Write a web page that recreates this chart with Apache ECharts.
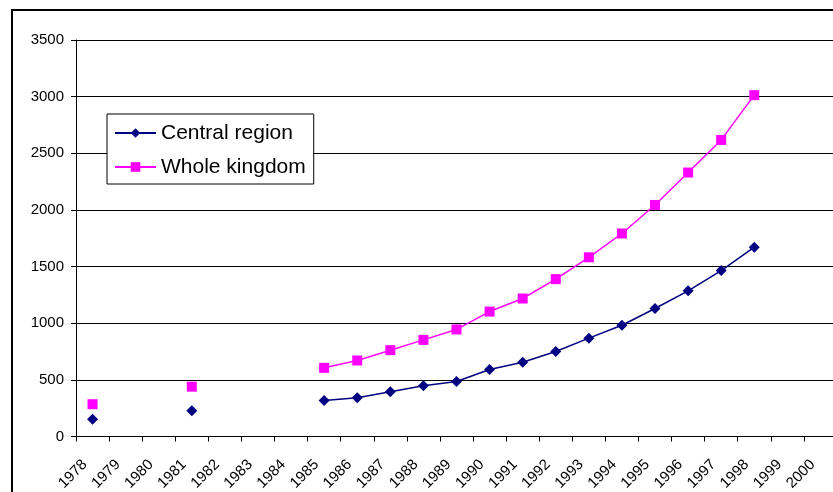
<!DOCTYPE html>
<html>
<head>
<meta charset="utf-8">
<script src="https://cdn.jsdelivr.net/npm/echarts@6/dist/echarts.min.js"></script>
<style>
html,body{margin:0;padding:0;background:#fff;}
#chart{width:833px;height:492px;}
</style>
</head>
<body>
<div id="chart"></div>
<script>
const years = ['1978','1979','1980','1981','1982','1983','1984','1985','1986','1987','1988','1989','1990','1991','1992','1993','1994','1995','1996','1997','1998','1999','2000'];
const centralRegion = [152, null, null, 228, null, null, null, 318, 343, 395, 447, 486, 591, 656, 750, 868, 982, 1130, 1286, 1465, 1671, null, null];
const wholeKingdom = [285, null, null, 440, null, null, null, 606, 671, 762, 853, 945, 1103, 1218, 1389, 1582, 1792, 2044, 2330, 2618, 3013, null, null];
const yTicks = {min: 0, max: 3500, interval: 500};

const chart = echarts.init(document.getElementById('chart'), null, {renderer: 'canvas'});
const font = 'Liberation Sans, Arial, sans-serif';
chart.setOption({
  animation: false,
  backgroundColor: '#fff',
  graphic: [{
    type: 'rect',
    shape: {x: 12, y: 10, width: 1000, height: 1000},
    style: {fill: 'none', stroke: '#000', lineWidth: 2},
    z: -10
  }],
  grid: {left: 76, right: -4, top: 40, bottom: 55.5, containLabel: false, outerBoundsMode: 'none'},
  legend: {
    orient: 'vertical',
    left: 107,
    top: 114,
    padding: [7, 8, 5, 7],
    itemGap: 10,
    itemWidth: 41,
    itemHeight: 12,
    borderColor: '#000',
    borderWidth: 1,
    backgroundColor: '#fff',
    borderRadius: 0,
    textStyle: {fontFamily: font, fontSize: 21, color: '#000', lineHeight: 24, padding: [0, 0, 0, 0]},
    data: ['Central region', 'Whole kingdom']
  },
  xAxis: {
    type: 'category',
    data: years,
    boundaryGap: true,
    axisLine: {lineStyle: {color: '#000', width: 1}},
    axisTick: {show: true, length: 5, lineStyle: {color: '#000'}, alignWithLabel: false, interval: 0},
    axisLabel: {interval: 0, rotate: 45, margin: 18, padding: [0, 11, 0, 0], fontFamily: font, fontSize: 15, color: '#000'},
    splitLine: {show: false}
  },
  yAxis: {
    type: 'value',
    min: yTicks.min,
    max: yTicks.max,
    interval: yTicks.interval,
    axisLine: {show: true, lineStyle: {color: '#000', width: 1}},
    axisTick: {show: true, length: 5, lineStyle: {color: '#000'}},
    axisLabel: {margin: 12, fontFamily: font, fontSize: 15, color: '#000', formatter: function (v) { return String(v); }},
    splitLine: {show: true, lineStyle: {color: '#000', width: 1}}
  },
  series: [
    {
      name: 'Central region',
      type: 'line',
      data: centralRegion,
      connectNulls: false,
      showAllSymbol: true,
      symbol: 'diamond',
      symbolSize: 11,
      color: '#000080',
      lineStyle: {color: '#000080', width: 1.5},
      itemStyle: {color: '#000080'}
    },
    {
      name: 'Whole kingdom',
      type: 'line',
      data: wholeKingdom,
      connectNulls: false,
      showAllSymbol: true,
      symbol: 'rect',
      symbolSize: 10,
      color: '#FF00FF',
      lineStyle: {color: '#FF00FF', width: 1.5},
      itemStyle: {color: '#FF00FF'}
    }
  ]
});
</script>
</body>
</html>
